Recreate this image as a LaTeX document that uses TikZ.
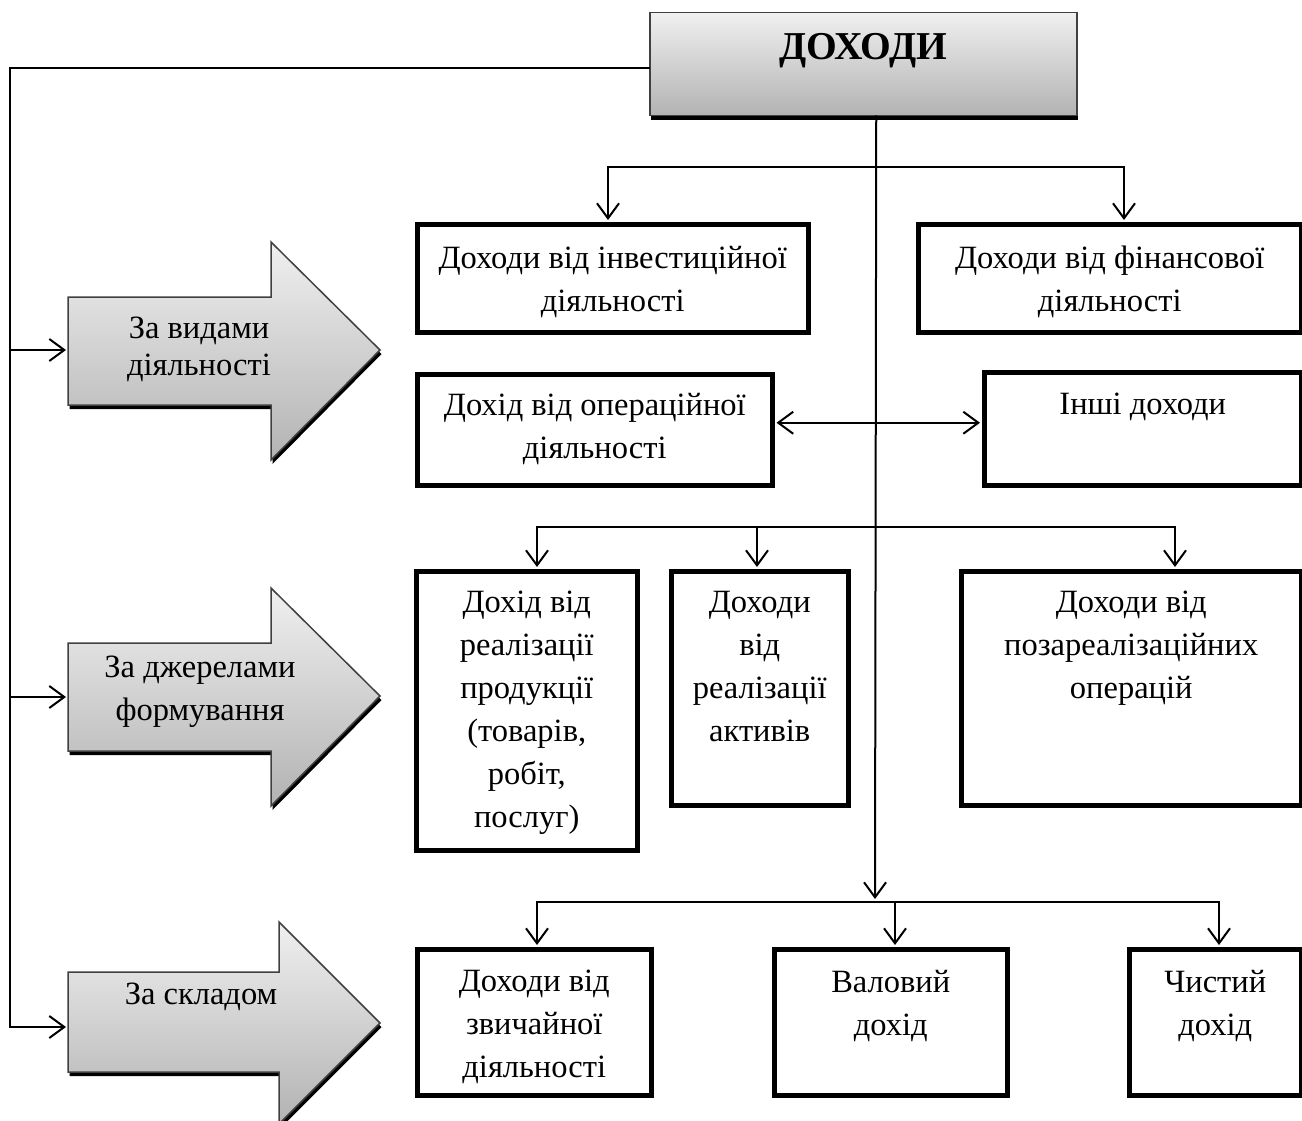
\documentclass[tikz,border=0pt]{standalone}
\usepackage{fontspec}
\setmainfont{Liberation Serif}
\usetikzlibrary{arrows.meta,shadows,calc}
\newcommand{\bxt}[4]{\parbox[c][#2][t]{#1}{\centering\vspace*{#3}#4\par}}
\tikzset{
  conn/.style={line width=2pt, line cap=rect},
  tip/.style={-{Straight Barb[length=15pt,width=22pt,line width=2pt]}},
  dtip/.style={{Straight Barb[length=15pt,width=22pt,line width=2pt]}-{Straight Barb[length=15pt,width=22pt,line width=2pt]}},
  box/.style={draw, line width=4.5pt, inner sep=0pt, anchor=north west, fill=white},
  gradshape/.style={draw=black!75, line width=1.5pt, top color=black!6, bottom color=black!30,
    general shadow={fill=black, shadow xshift=1.5pt, shadow yshift=-4pt}},
  txt/.style={align=center, inner sep=0pt}
}
\begin{document}
\begin{tikzpicture}[x=1pt,y=-1pt,font=\fontsize{32.5}{43}\selectfont]
\useasboundingbox (0,0) rectangle (1302,1121);

% main box
\node[gradshape, inner sep=0pt, anchor=north west, minimum width=427pt, minimum height=103pt] (dohody) at (649,12)
  {\bxt{427pt}{103pt}{21pt}{\fontsize{39.5}{40}\selectfont\bfseries ДОХОДИ}};

% block arrows
\path[gradshape] (68,297) -- (271,297) -- (271,242) -- (380,350) -- (271,460) -- (271,405) -- (68,405) -- cycle;
\path[gradshape] (68,643) -- (271,643) -- (271,588) -- (380,696) -- (271,806) -- (271,751) -- (68,751) -- cycle;
\path[gradshape] (68,972) -- (279,972) -- (279,922) -- (380,1023) -- (279,1124) -- (279,1072) -- (68,1072) -- cycle;
\node[txt, font=\fontsize{32.5}{37}\selectfont] (a1) at (199,349) {За видами\\діяльності};
\node[txt] (a2) at (200,692) {За джерелами\\формування};
\node[txt] (a3) at (201,997) {За складом};
\coordinate (a1w) at (66,350);
\coordinate (a2w) at (66,697);
\coordinate (a3w) at (66,1027);

% boxes
\node[box, minimum width=391pt, minimum height=108pt] (inv) at (415,222)
  {\bxt{391pt}{108pt}{22pt}{Доходи від інвестиційної\\діяльності}};
\node[box, minimum width=383pt, minimum height=108pt] (fin) at (916,222)
  {\bxt{383pt}{108pt}{22pt}{Доходи від фінансової\\діяльності}};
\node[box, minimum width=355pt, minimum height=111pt] (op) at (415,372)
  {\bxt{355pt}{111pt}{19pt}{Дохід від операційної\\діяльності}};
\node[box, minimum width=317pt, minimum height=113pt] (inshi) at (982,370)
  {\bxt{317pt}{113pt}{21pt}{Інші доходи}};
\node[box, minimum width=221pt, minimum height=279pt] (prod) at (414,569)
  {\bxt{221pt}{279pt}{20pt}{Дохід від\\реалізації\\продукції\\(товарів,\\робіт,\\послуг)}};
\node[box, minimum width=177pt, minimum height=234pt] (act) at (669,569)
  {\bxt{177pt}{234pt}{20pt}{Доходи\\від\\реалізації\\активів}};
\node[box, minimum width=340pt, minimum height=234pt] (poza) at (959,569)
  {\bxt{340pt}{234pt}{20pt}{Доходи від\\позареалізаційних\\операцій}};
\node[box, minimum width=234pt, minimum height=146pt] (zvych) at (415,947)
  {\bxt{234pt}{146pt}{21pt}{Доходи від\\звичайної\\діяльності}};
\node[box, minimum width=233pt, minimum height=146pt] (val) at (772,947)
  {\bxt{233pt}{146pt}{21pt}{Валовий\\дохід}};
\node[box, minimum width=172pt, minimum height=146pt] (chist) at (1127,947)
  {\bxt{172pt}{146pt}{21pt}{Чистий\\дохід}};

% left spine
\coordinate (sp0) at (10,68);
\coordinate (sp1) at (10,1027);
\draw[conn] ($(dohody.north west)+(0,56)$) -- (sp0) -- (sp1);
\draw[conn,tip] (sp0 |- a1w) -- (a1w);
\draw[conn,tip] (sp0 |- a2w) -- (a2w);
\draw[conn,tip] (sp1) -- (a3w);

% trunk
\coordinate (t0) at ($(dohody.south)+(13,0)$);
\coordinate (t3) at (875,899);
\draw[conn,tip] (t0) -- (t3);

% branch 1
\coordinate (b1l) at (608,167);
\coordinate (b1r) at (1124,167);
\draw[conn] (b1l) -- (b1r);
\draw[conn,tip,shorten >=2pt] (b1l) -- (b1l |- inv.north);
\draw[conn,tip,shorten >=2pt] (b1r) -- (b1r |- fin.north);

% double arrow
\draw[conn,dtip] ($(op.east)+(2,-7)$) -- ($(inshi.west)+(-2,-6)$);

% branch 2
\coordinate (b2a) at (537,527);
\coordinate (b2b) at (757,527);
\coordinate (b2c) at (1175,527);
\draw[conn] (b2a) -- (b2c);
\draw[conn,tip,shorten >=2pt] (b2a) -- (b2a |- prod.north);
\draw[conn,tip,shorten >=2pt] (b2b) -- (b2b |- act.north);
\draw[conn,tip,shorten >=2pt] (b2c) -- (b2c |- poza.north);

% branch 3
\coordinate (b3a) at (537,902);
\coordinate (b3b) at (895,902);
\coordinate (b3c) at (1219,902);
\draw[conn] (b3a) -- (b3c);
\draw[conn,tip,shorten >=2pt] (b3a) -- (b3a |- zvych.north);
\draw[conn,tip,shorten >=2pt] (b3b) -- (b3b |- val.north);
\draw[conn,tip,shorten >=2pt] (b3c) -- (b3c |- chist.north);
\end{tikzpicture}
\end{document}
